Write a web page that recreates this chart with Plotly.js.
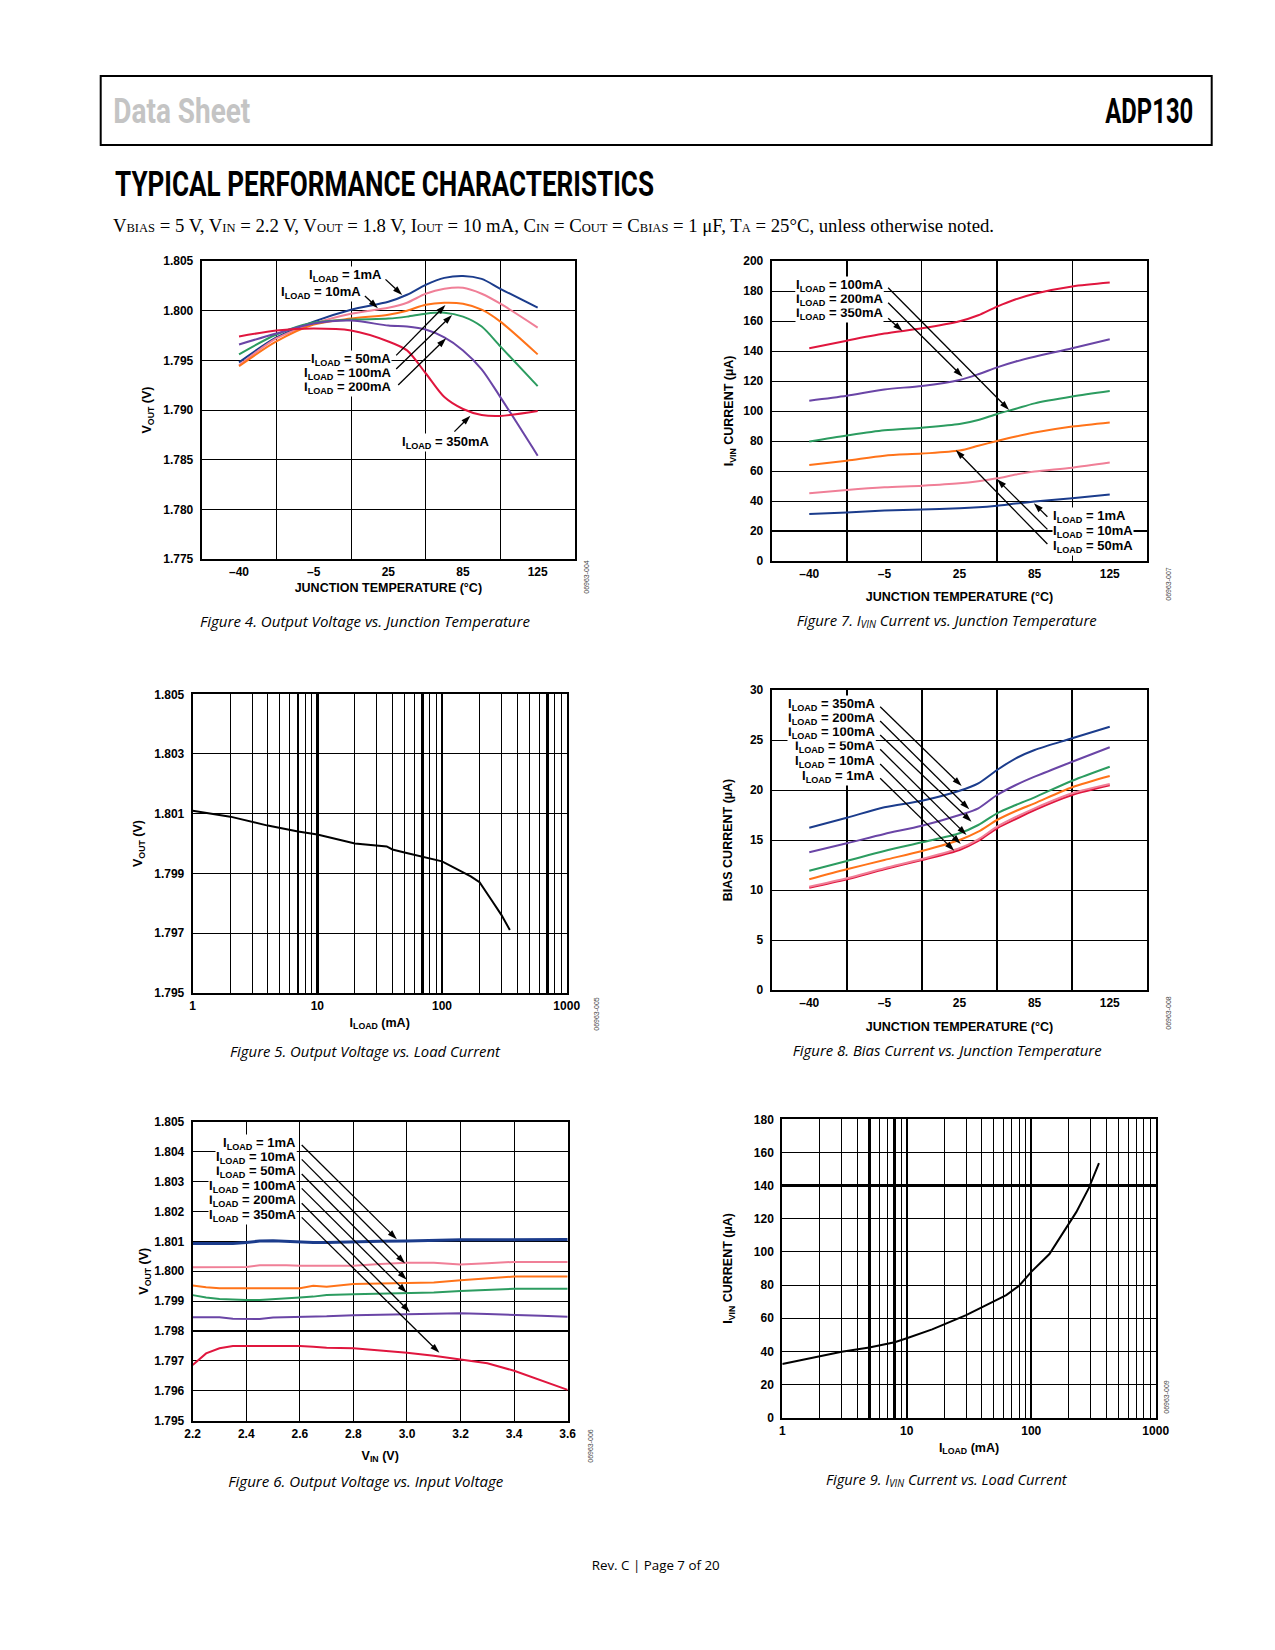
<!DOCTYPE html>
<html>
<head>
<meta charset="utf-8">
<script src="https://cdn.plot.ly/plotly-3.0.1.min.js"></script>
<style>
html,body{margin:0;padding:0;background:#fff;}
#wrap{position:relative;width:1275px;height:1650px;overflow:hidden;background:#fff;}
#chart{position:absolute;left:0;top:0;width:1275px;height:1650px;}
#over{position:absolute;left:0;top:0;width:1275px;height:1650px;pointer-events:none;}
</style>
</head>
<body>
<div id="wrap">
<div id="chart"></div>
<svg id="over" width="1275" height="1650" xmlns="http://www.w3.org/2000/svg">
  <rect x="100.7" y="76" width="1111" height="69" fill="none" stroke="#000" stroke-width="2"/>
  <text x="113.3" y="123.3" font-family="Roboto" font-weight="700" font-size="35" fill="#c4c4c4" textLength="137" lengthAdjust="spacingAndGlyphs">Data Sheet</text>
  <text x="1105.3" y="123.3" font-family="Roboto" font-weight="700" font-size="35" fill="#000" textLength="88" lengthAdjust="spacingAndGlyphs">ADP130</text>
  <text x="115" y="196" font-family="Roboto" font-weight="700" font-size="35" fill="#000" textLength="539" lengthAdjust="spacingAndGlyphs">TYPICAL PERFORMANCE CHARACTERISTICS</text>
  <text x="113" y="232" font-family="Liberation Serif" font-size="18.7" fill="#000" textLength="881" lengthAdjust="spacingAndGlyphs">V<tspan font-size="12.5">BIAS</tspan> = 5 V, V<tspan font-size="12.5">IN</tspan> = 2.2 V, V<tspan font-size="12.5">OUT</tspan> = 1.8 V, I<tspan font-size="12.5">OUT</tspan> = 10 mA, C<tspan font-size="12.5">IN</tspan> = C<tspan font-size="12.5">OUT</tspan> = C<tspan font-size="12.5">BIAS</tspan> = 1 μF, T<tspan font-size="12.5">A</tspan> = 25°C, unless otherwise noted.</text>

  <g font-family="Open Sans" font-style="italic" font-size="15" fill="#000">
    <text x="200" y="626.7" textLength="330" lengthAdjust="spacingAndGlyphs">Figure 4. Output Voltage vs. Junction Temperature</text>
    <text x="796.7" y="626" textLength="300" lengthAdjust="spacingAndGlyphs">Figure 7. I<tspan font-size="10" dy="2">VIN</tspan><tspan dy="-2"> Current vs. Junction Temperature</tspan></text>
    <text x="230" y="1056.7" textLength="270" lengthAdjust="spacingAndGlyphs">Figure 5. Output Voltage vs. Load Current</text>
    <text x="792.7" y="1055.7" textLength="309" lengthAdjust="spacingAndGlyphs">Figure 8. Bias Current vs. Junction Temperature</text>
    <text x="228.3" y="1486.7" textLength="275" lengthAdjust="spacingAndGlyphs">Figure 6. Output Voltage vs. Input Voltage</text>
    <text x="826" y="1485" textLength="240.7" lengthAdjust="spacingAndGlyphs">Figure 9. I<tspan font-size="10" dy="2">VIN</tspan><tspan dy="-2"> Current vs. Load Current</tspan></text>
  </g>

  <g font-family="Liberation Sans" font-size="7" fill="#444" text-anchor="middle">
    <text transform="translate(589.3,577) rotate(-90)">06963-004</text>
    <text transform="translate(1170.5,584) rotate(-90)">06963-007</text>
    <text transform="translate(599,1014) rotate(-90)">06963-005</text>
    <text transform="translate(1170.5,1013) rotate(-90)">06963-008</text>
    <text transform="translate(592.5,1446) rotate(-90)">06963-006</text>
    <text transform="translate(1169,1397) rotate(-90)">06963-009</text>
  </g>

  <text x="591.7" y="1570" font-family="Open Sans" font-size="13.5" fill="#000" textLength="128" lengthAdjust="spacingAndGlyphs">Rev. C | Page 7 of 20</text>
</svg>
</div>
<script>
// ================= DATA =================
const seriesColors = ['#1b3c8c', '#f07f97', '#ff7319', '#2c9c60', '#6a45a6', '#e0163e']; // blue, pink, orange, green, purple, red

// shared junction-temperature axis (evenly spaced labels)
const tempTickPos  = [0, 1, 2, 3, 4];
const tempTickText = ['–40', '–5', '25', '85', '125'];

// Figure 4: Output voltage vs junction temperature
const f4Pos       = [0, 0.5, 1, 1.5, 2, 2.25, 2.5, 2.75, 3, 3.25, 3.5, 4];
const f4Vout1mA   = [1.7948, 1.7973, 1.7989, 1.8001, 1.8009, 1.8016, 1.8026, 1.8033, 1.8035, 1.8032, 1.8022, 1.8003];
const f4Vout10mA  = [1.7945, 1.7972, 1.7987, 1.7997, 1.8003, 1.8008, 1.8017, 1.8022, 1.8023, 1.8017, 1.8007, 1.7983];
const f4Vout50mA  = [1.7944, 1.7969, 1.7986, 1.7992, 1.7996, 1.8000, 1.8006, 1.8008, 1.8007, 1.8001, 1.7989, 1.7956];
const f4Vout100mA = [1.7956, 1.7976, 1.7988, 1.7991, 1.7992, 1.7994, 1.7997, 1.7998, 1.7994, 1.7984, 1.7964, 1.7924];
const f4Vout200mA = [1.7966, 1.7977, 1.7987, 1.7990, 1.7985, 1.7984, 1.7981, 1.7973, 1.7960, 1.7941, 1.7913, 1.7854];
const f4Vout350mA = [1.7974, 1.7980, 1.7982, 1.7980, 1.7969, 1.7960, 1.7937, 1.7913, 1.7901, 1.7895, 1.7894, 1.7899];
const f4YTicks    = [1.775, 1.780, 1.785, 1.790, 1.795, 1.800, 1.805];

// Figure 7: IVIN current vs junction temperature
const f7Pos       = [0, 0.5, 1, 1.5, 2, 2.25, 2.5, 2.75, 3, 3.5, 4];
const f7Ivin1mA   = [31.3, 32.4, 33.6, 34.4, 35.1, 35.8, 36.9, 38.3, 39.6, 41.8, 44.4];
const f7Ivin10mA  = [45.1, 47.3, 49.1, 50.2, 51.8, 53.2, 55.1, 57.6, 59.6, 62.2, 65.6];
const f7Ivin50mA  = [64.0, 66.9, 70.2, 71.6, 73.6, 76.8, 80.0, 83.0, 85.6, 89.6, 92.4];
const f7Ivin100mA = [79.6, 83.6, 87.1, 88.9, 91.3, 94.0, 98.0, 101.5, 105.1, 109.6, 113.3];
const f7Ivin200mA = [106.9, 110.2, 114.4, 116.7, 120.7, 124.5, 129.1, 133.0, 136.2, 141.8, 147.8];
const f7Ivin350mA = [141.8, 146.9, 151.6, 155.1, 159.8, 163.8, 169.6, 174.5, 178.2, 183.0, 185.6];
const f7YTicks    = [0, 20, 40, 60, 80, 100, 120, 140, 160, 180, 200];

// Figure 5: Output voltage vs load current
const f5Iload = [1, 2, 4, 7, 10, 20, 36, 40, 50, 80, 100, 170, 200, 250, 300, 350];
const f5Vout  = [1.8011, 1.8009, 1.8006, 1.8004, 1.8003, 1.8000, 1.7999, 1.7998, 1.7997, 1.7995, 1.7994, 1.7989, 1.7987, 1.7981, 1.7976, 1.7971];
const f5YTicks = [1.795, 1.797, 1.799, 1.801, 1.803, 1.805];
const f5ThickGrid = [7, 10, 70, 100, 700];

// Figure 8: Bias current vs junction temperature
const f8Pos         = [0, 0.5, 1, 1.5, 2, 2.25, 2.5, 2.75, 3, 3.5, 4];
const f8Ibias1mA    = [10.23, 11.07, 12.07, 13.0, 14.0, 14.9, 16.17, 17.1, 18.0, 19.5, 20.47];
const f8Ibias10mA   = [10.33, 11.17, 12.17, 13.1, 14.17, 15.07, 16.33, 17.3, 18.17, 19.67, 20.6];
const f8Ibias50mA   = [11.07, 12.07, 13.0, 13.9, 15.0, 15.83, 17.0, 17.9, 18.67, 20.27, 21.4];
const f8Ibias100mA  = [11.93, 12.9, 13.9, 14.77, 15.67, 16.5, 17.67, 18.5, 19.27, 20.93, 22.33];
const f8Ibias200mA  = [13.77, 14.67, 15.6, 16.43, 17.5, 18.17, 19.5, 20.5, 21.33, 22.83, 24.27];
const f8Ibias350mA  = [16.23, 17.23, 18.27, 18.93, 19.93, 20.67, 22.0, 23.17, 24.0, 25.17, 26.33];
const f8YTicks      = [0, 5, 10, 15, 20, 25, 30];

// Figure 6: Output voltage vs input voltage
const f6Vin       = [2.2, 2.25, 2.3, 2.35, 2.4, 2.45, 2.5, 2.55, 2.6, 2.65, 2.7, 2.8, 2.9, 3.0, 3.1, 3.2, 3.3, 3.4, 3.5, 3.6];
const f6Vout1mA   = [1.80093,1.80093,1.80093,1.80093,1.80096,1.80101,1.80102,1.80100,1.80096,1.80096,1.80096,1.80099,1.80100,1.80101,1.80104,1.80105,1.80105,1.80105,1.80106,1.80106];
const f6Vout10mA  = [1.80013,1.80013,1.80013,1.80013,1.80014,1.80020,1.80021,1.80020,1.80018,1.80018,1.80018,1.80018,1.80024,1.80028,1.80028,1.80022,1.80027,1.80031,1.80031,1.80031];
const f6Vout50mA  = [1.79952,1.79946,1.79943,1.79943,1.79943,1.79943,1.79943,1.79943,1.79943,1.79951,1.79948,1.79957,1.79959,1.79962,1.79962,1.79970,1.79976,1.79982,1.79982,1.79982];
const f6Vout100mA = [1.79920,1.79912,1.79907,1.79905,1.79904,1.79904,1.79906,1.79908,1.79912,1.79915,1.79920,1.79923,1.79925,1.79926,1.79929,1.79934,1.79937,1.79941,1.79941,1.79941];
const f6Vout200mA = [1.79846,1.79846,1.79846,1.79841,1.79840,1.79840,1.79845,1.79846,1.79846,1.79846,1.79849,1.79853,1.79855,1.79856,1.79858,1.79859,1.79857,1.79855,1.79851,1.79848];
const f6Vout350mA = [1.79686,1.79725,1.79742,1.79750,1.79750,1.79750,1.79750,1.79750,1.79750,1.79747,1.79744,1.79742,1.79735,1.79727,1.79717,1.79705,1.79692,1.79667,1.79636,1.79603];
const f6XTicks    = [2.2, 2.4, 2.6, 2.8, 3.0, 3.2, 3.4, 3.6];
const f6YTicks    = [1.795, 1.796, 1.797, 1.798, 1.799, 1.800, 1.801, 1.802, 1.803, 1.804, 1.805];

// Figure 9: IVIN current vs load current
const f9Iload = [1, 2, 3, 5, 8, 10, 16, 30, 40, 63, 80, 100, 140, 190, 230, 290, 350];
const f9Ivin  = [32.4, 36.8, 39.8, 42.4, 45.5, 47.9, 53.3, 61.9, 66.6, 74.0, 79.6, 88.0, 98.7, 114.0, 124.0, 138.5, 153.5];
const f9YTicks = [0, 20, 40, 60, 80, 100, 120, 140, 160, 180];
const f9ThickGrid = [5, 8, 10, 100];

// log axis ticks (1 .. 1000)
const logTickVals = [1, 10, 100, 1000];
const logTickText = ['1', '10', '100', '1000'];
const logGridVals = [2,3,4,5,6,7,8,9,10,20,30,40,50,60,70,80,90,100,200,300,400,500,600,700,800,900];

// load-current labels
const loadLabels = ['1mA', '10mA', '50mA', '100mA', '200mA', '350mA'];

// ================= BUILD =================
const W = 1275, H = 1650;
const data = [];
const arrows = [];
const layout = {
  width: W, height: H, margin: {l:0, r:0, t:0, b:0},
  paper_bgcolor: 'rgba(0,0,0,0)', plot_bgcolor: '#fff',
  font: {family: 'Liberation Sans, Arial, sans-serif', size: 12, color: '#000', weight: 700},
  showlegend: false, hovermode: false, annotations: []
};
const id  = (l, n) => n === 1 ? l : l + n;
const key = (l, n) => l + 'axis' + (n === 1 ? '' : n);
const common = {showline: true, mirror: true, linecolor: '#000', linewidth: 2, zeroline: false, ticks: '',
  tickfont: {size: 12, weight: 700}, gridcolor: '#000', gridwidth: 1, fixedrange: true, layer: 'above traces'};

function panel(n, box, xa, ya) {
  const [x0, x1, y0, y1] = box;
  layout[key('x', n)] = Object.assign({}, common, {domain: [x0 / W, x1 / W], anchor: id('y', n), ticklabelstandoff: 1}, xa);
  layout[key('y', n)] = Object.assign({}, common, {domain: [1 - y1 / H, 1 - y0 / H], anchor: id('x', n), ticklabelstandoff: 4}, ya);
}
let nextX = 7, nextY = 7;
function gridOverlay(letter, mainN, type, range, vals, width) {
  const n = letter === 'x' ? nextX++ : nextY++;
  const other = letter === 'x' ? 'y' : 'x';
  layout[key(letter, n)] = {overlaying: id(letter, mainN), anchor: id(other, mainN), type: type, range: range,
    tickmode: 'array', tickvals: vals, showticklabels: false, ticks: '', showgrid: true, gridcolor: '#000',
    gridwidth: width, zeroline: false, showline: false, fixedrange: true};
  data.push({type: 'scatter', mode: 'lines', x: [], y: [], hoverinfo: 'skip', showlegend: false,
    xaxis: letter === 'x' ? id('x', n) : id('x', mainN), yaxis: letter === 'y' ? id('y', n) : id('y', mainN)});
}
function line(n, x, y, color, width, shape) {
  data.push({type: 'scatter', mode: 'lines', x: x, y: y, xaxis: id('x', n), yaxis: id('y', n),
    line: {color: color, width: width || 2, shape: shape || 'spline', smoothing: 0.8}, hoverinfo: 'skip', showlegend: false});
}
function label(n, x, y, text, anchor) {
  layout.annotations.push({xref: id('x', n), yref: id('y', n), x: x, y: y, text: 'I<sub>LOAD</sub> = ' + text,
    showarrow: false, xanchor: anchor, yanchor: 'middle', bgcolor: '#fff', borderpad: 0, font: {size: 13, weight: 700, color: '#000'}});
}
// pointer arrow from a label to its curve (arrowhead marker oriented along the segment)
function arrow(n, tail, tip) {
  arrows.push({type: 'scatter', mode: 'lines+markers', x: [tail[0], tip[0]], y: [tail[1], tip[1]],
    xaxis: id('x', n), yaxis: id('y', n), line: {color: '#000', width: 1.3},
    marker: {symbol: 'arrow', size: 10, angleref: 'previous', color: '#000', line: {width: 0}},
    hoverinfo: 'skip', showlegend: false, cliponaxis: false});
}
const tempX = (standoff) => ({range: [-0.5, 4.5], tickmode: 'array', tickvals: tempTickPos, ticktext: tempTickText, showgrid: false,
  title: {text: 'JUNCTION TEMPERATURE (°C)', font: {size: 12.5, weight: 700}, standoff: standoff}});
const logX = (standoff) => ({type: 'log', range: [0, 3], tickmode: 'array', tickvals: logTickVals, ticktext: logTickText, showgrid: false,
  title: {text: 'I<sub>LOAD</sub> (mA)', font: {size: 12.5, weight: 700}, standoff: standoff}});
const yAx = (ticks, fmt, title, standoff) => ({range: [ticks[0], ticks[ticks.length - 1]], tickmode: 'array', tickvals: ticks,
  tickformat: fmt, showgrid: true, title: {text: title, font: {size: 12.5, weight: 700}, standoff: standoff}});

// ---- Figure 4 (panel 1)
panel(1, [201.7, 575, 261, 559], tempX(5), yAx(f4YTicks, '.3f', 'V<sub>OUT</sub> (V)', 9));
gridOverlay('x', 1, 'linear', [-0.5, 4.5], [0.5, 1.5, 2.5, 3.5], 1);
[f4Vout1mA, f4Vout10mA, f4Vout50mA, f4Vout100mA, f4Vout200mA, f4Vout350mA].forEach((s, i) => line(1, f4Pos, s, seriesColors[i]));

// ---- Figure 7 (panel 2)
panel(2, [771.7, 1147.3, 261, 561], tempX(12), yAx(f7YTicks, 'd', 'I<sub>VIN</sub> CURRENT (µA)', 7));
gridOverlay('x', 2, 'linear', [-0.5, 4.5], [1.5, 3.5], 1);
gridOverlay('x', 2, 'linear', [-0.5, 4.5], [0.5, 2.5], 2.5);
gridOverlay('y', 2, 'linear', [0, 200], [20], 2.5);
[f7Ivin1mA, f7Ivin10mA, f7Ivin50mA, f7Ivin100mA, f7Ivin200mA, f7Ivin350mA].forEach((s, i) => line(2, f7Pos, s, seriesColors[i]));

// ---- Figure 5 (panel 3)
panel(3, [192.7, 566.7, 694.3, 992.7], logX(6), yAx(f5YTicks, '.3f', 'V<sub>OUT</sub> (V)', 9));
gridOverlay('x', 3, 'log', [0, 3], logGridVals.filter(v => !f5ThickGrid.includes(v)), 1);
gridOverlay('x', 3, 'log', [0, 3], f5ThickGrid, 2.5);
line(3, f5Iload, f5Vout, '#000', 2, 'linear');

// ---- Figure 8 (panel 4)
panel(4, [771.7, 1147.3, 690, 990], tempX(13), yAx(f8YTicks, 'd', 'BIAS CURRENT (µA)', 15));
gridOverlay('x', 4, 'linear', [-0.5, 4.5], [0.5, 1.5, 2.5, 3.5], 2.5);
const f8Colors = [seriesColors[5], seriesColors[1], seriesColors[2], seriesColors[3], seriesColors[4], seriesColors[0]];
[f8Ibias1mA, f8Ibias10mA, f8Ibias50mA, f8Ibias100mA, f8Ibias200mA, f8Ibias350mA].forEach((s, i) => line(4, f8Pos, s, f8Colors[i]));

// ---- Figure 6 (panel 5)
panel(5, [192.7, 567.7, 1121.7, 1420.7],
  {range: [2.2, 3.6], tickmode: 'array', tickvals: f6XTicks, tickformat: '.1f', showgrid: true,
   title: {text: 'V<sub>IN</sub> (V)', font: {size: 12.5, weight: 700}, standoff: 11}},
  yAx(f6YTicks, '.3f', 'V<sub>OUT</sub> (V)', 3));
gridOverlay('y', 5, 'linear', [1.795, 1.805], [1.798], 2.5);
[f6Vout1mA, f6Vout10mA, f6Vout50mA, f6Vout100mA, f6Vout200mA, f6Vout350mA].forEach((s, i) => line(5, f6Vin, s, seriesColors[i], i === 0 ? 3 : 2, 'linear'));

// ---- Figure 9 (panel 6)
panel(6, [782.3, 1155.7, 1119.3, 1417.7], logX(6), yAx(f9YTicks, 'd', 'I<sub>VIN</sub> CURRENT (µA)', 18));
gridOverlay('x', 6, 'log', [0, 3], logGridVals.filter(v => !f9ThickGrid.includes(v)), 1);
gridOverlay('x', 6, 'log', [0, 3], f9ThickGrid, 2.5);
gridOverlay('y', 6, 'linear', [0, 180], [140], 2.5);
line(6, f9Iload, f9Ivin, '#000', 2, 'linear');

// ================= LABELS & ARROWS =================
// (stacked labels are added bottom-first so every upper label stays fully visible)
// Figure 4
label(1, 1.651, 1.80185, loadLabels[1], 'right');
label(1, 1.926, 1.80352, loadLabels[0], 'right');
label(1, 2.052, 1.79224, loadLabels[4], 'right');
label(1, 2.052, 1.79369, loadLabels[3], 'right');
label(1, 2.052, 1.79510, loadLabels[2], 'right');
label(1, 2.163, 1.78671, loadLabels[5], 'left');
arrow(1, [1.962, 1.80315], [2.185, 1.80158]);
arrow(1, [1.686, 1.80148], [1.860, 1.80024]);
arrow(1, [2.105, 1.79550], [2.765, 1.80057]);
arrow(1, [2.105, 1.79413], [2.854, 1.79956]);
arrow(1, [2.132, 1.79252], [2.774, 1.79722]);
arrow(1, [2.885, 1.78782], [3.099, 1.78943]);

// Figure 7
label(2, 0.997, 164.7, loadLabels[5], 'right');
label(2, 0.997, 174.5, loadLabels[4], 'right');
label(2, 0.997, 184.0, loadLabels[3], 'right');
label(2, 3.234, 9.5, loadLabels[2], 'left');
label(2, 3.234, 19.5, loadLabels[1], 'left');
label(2, 3.234, 29.5, loadLabels[0], 'left');
arrow(2, [1.05, 182.2], [2.66, 100.7]);
arrow(2, [1.05, 172.2], [2.04, 122.9]);
arrow(2, [1.05, 161.8], [1.24, 153.3]);
arrow(2, [3.17, 29.5], [2.99, 38.5]);
arrow(2, [3.17, 21.1], [2.50, 54.5]);
arrow(2, [3.17, 11.3], [1.95, 74.0]);

// Figure 8
const f8LabelText = ['350mA', '200mA', '100mA', '50mA', '10mA', '1mA'];
const f8LabelY = [28.6, 27.17, 25.73, 24.33, 22.83, 21.4];
const f8TailY  = [28.33, 26.9, 25.5, 24.07, 22.6, 21.17];
const f8Tips   = [[2.029, 20.4], [2.13, 18.07], [2.16, 16.83], [2.093, 15.5], [2.017, 14.6], [1.93, 13.93]];
for (let i = f8LabelText.length - 1; i >= 0; i--) label(4, 0.890, f8LabelY[i], f8LabelText[i], 'right');
f8Tips.forEach((tip, i) => arrow(4, [0.944, f8TailY[i]], tip));

// Figure 6
const f6LabelY = [1.80428, 1.80380, 1.80333, 1.80283, 1.80235, 1.80186];
const f6TailY  = [1.80422, 1.80374, 1.80325, 1.80277, 1.80227, 1.80180];
const f6Tips   = [[2.962, 1.80107], [2.993, 1.80026], [2.999, 1.79971], [2.999, 1.79928], [3.011, 1.79863], [3.121, 1.79727]];
for (let i = loadLabels.length - 1; i >= 0; i--) label(5, 2.5905, f6LabelY[i], loadLabels[i], 'right');
f6Tips.forEach((tip, i) => arrow(5, [2.607, f6TailY[i]], tip));

Plotly.newPlot('chart', data.concat(arrows), layout, {staticPlot: true, displayModeBar: false});
</script>
</body>
</html>
